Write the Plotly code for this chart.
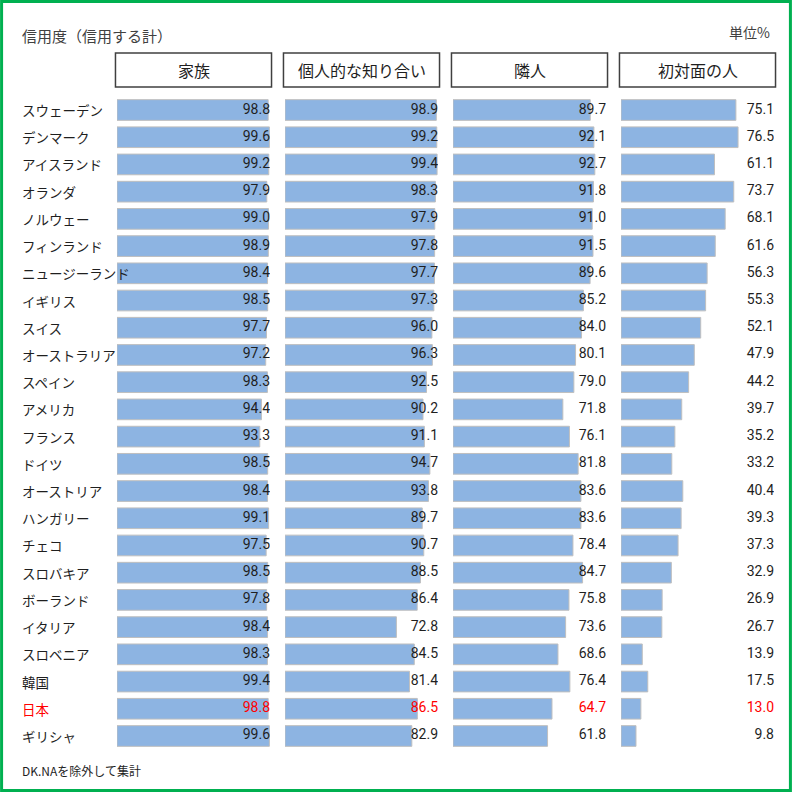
import plotly.graph_objects as go

# データ（信用する計, 単位%）
countries = ['スウェーデン', 'デンマーク', 'アイスランド', 'オランダ', 'ノルウェー', 'フィンランド',
             'ニュージーランド', 'イギリス', 'スイス', 'オーストラリア', 'スペイン', 'アメリカ',
             'フランス', 'ドイツ', 'オーストリア', 'ハンガリー', 'チェコ', 'スロバキア',
             'ボーランド', 'イタリア', 'スロベニア', '韓国', '日本', 'ギリシャ']
family = [98.8, 99.6, 99.2, 97.9, 99.0, 98.9, 98.4, 98.5, 97.7, 97.2, 98.3, 94.4,
          93.3, 98.5, 98.4, 99.1, 97.5, 98.5, 97.8, 98.4, 98.3, 99.4, 98.8, 99.6]
acquaint = [98.9, 99.2, 99.4, 98.3, 97.9, 97.8, 97.7, 97.3, 96.0, 96.3, 92.5, 90.2,
            91.1, 94.7, 93.8, 89.7, 90.7, 88.5, 86.4, 72.8, 84.5, 81.4, 86.5, 82.9]
neighbor = [89.7, 92.1, 92.7, 91.8, 91.0, 91.5, 89.6, 85.2, 84.0, 80.1, 79.0, 71.8,
            76.1, 81.8, 83.6, 83.6, 78.4, 84.7, 75.8, 73.6, 68.6, 76.4, 64.7, 61.8]
stranger = [75.1, 76.5, 61.1, 73.7, 68.1, 61.6, 56.3, 55.3, 52.1, 47.9, 44.2, 39.7,
            35.2, 33.2, 40.4, 39.3, 37.3, 32.9, 26.9, 26.7, 13.9, 17.5, 13.0, 9.8]
headers = ['家族', '個人的な知り合い', '隣人', '初対面の人']
highlight = '日本'

W = 792
series = [family, acquaint, neighbor, stranger]
left_px = [117, 285, 453, 621]
panel_w = 153

font_jp = 'Noto Sans CJK JP'
num_font = 'Roboto, Noto Sans'
dark = '#1f1f1f'
txt_colors = ['red' if c == highlight else dark for c in countries]

fig = go.Figure()
layout = {}
for i, vals in enumerate(series):
    n = '' if i == 0 else str(i + 1)
    fig.add_trace(go.Bar(
        x=vals, y=countries, orientation='h',
        xaxis='x' + n, yaxis='y',
        marker=dict(color='#8DB4E2', line=dict(color='#BFBFBF', width=1)),
        width=0.76, showlegend=False, hoverinfo='x+y'))
    fig.add_trace(go.Scatter(
        x=[100] * len(vals), y=countries, mode='text',
        text=[f'{v:.1f}' for v in vals], textposition='middle left',
        textfont=dict(family=num_font, size=14, color=txt_colors),
        xaxis='x' + n, yaxis='y', showlegend=False, hoverinfo='skip'))
    layout['xaxis' + n] = dict(
        domain=[left_px[i] / W, (left_px[i] + panel_w) / W], range=[0, 100],
        visible=False, fixedrange=True, anchor='y')
    # 見出しボックス
    fig.add_shape(type='rect', xref=f'x{n} domain', yref='paper',
                  x0=-0.01, x1=1.01, y0=1 - 87 / W, y1=1 - 53 / W,
                  line=dict(color='#404040', width=1.5), fillcolor='white')
    fig.add_annotation(xref=f'x{n} domain', yref='paper', x=0.5, y=1 - 70 / W,
                       xanchor='center', yanchor='middle',
                       text=headers[i], showarrow=False,
                       font=dict(family=font_jp, size=16, color=dark))

# 国名ラベル
for c in countries:
    fig.add_annotation(xref='paper', yref='y', x=20 / W, y=c,
                       xanchor='left', yanchor='middle',
                       text=c, showarrow=False,
                       font=dict(family=font_jp, size=13.5,
                                 color='red' if c == highlight else dark))

fig.add_annotation(xref='paper', yref='paper', x=20 / W, y=1 - 35 / W,
                   xanchor='left', yanchor='middle',
                   text='信用度（信用する計）', showarrow=False,
                   font=dict(family=font_jp, size=15, color='#404040'))
fig.add_annotation(xref='paper', yref='paper', x=772 / W, y=1 - 32 / W,
                   xanchor='right', yanchor='middle',
                   text='単位%', showarrow=False,
                   font=dict(family=font_jp, size=14, color='#404040'))
fig.add_annotation(xref='paper', yref='paper', x=20 / W, y=1 - 770 / W,
                   xanchor='left', yanchor='middle',
                   text='DK.NAを除外して集計', showarrow=False,
                   font=dict(family=font_jp, size=12, color=dark))

# 緑の枠
fig.add_shape(type='rect', xref='paper', yref='paper', x0=0.002, x1=0.998, y0=0.002, y1=0.998,
              line=dict(color='#00B050', width=3))

fig.update_layout(
    width=W, height=W, margin=dict(l=0, r=0, t=0, b=0),
    paper_bgcolor='white', plot_bgcolor='white', bargap=0.24,
    yaxis=dict(domain=[1 - 749.6 / W, 1 - 96.4 / W], range=[len(countries) - 0.5, -0.5],
               visible=False, fixedrange=True, categoryorder='array', categoryarray=countries),
    **layout)

fig.write_html('out.html', config={'displayModeBar': False},
               post_script="document.body.style.margin='0';")
